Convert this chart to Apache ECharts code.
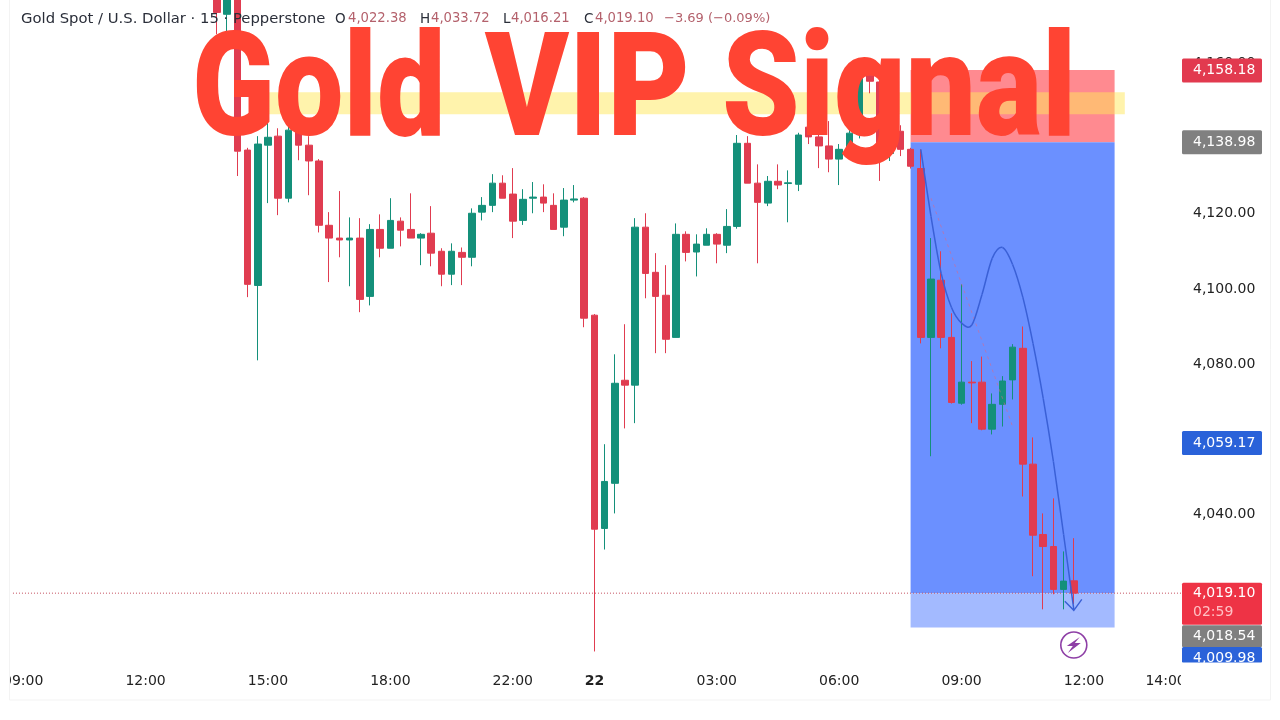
<!DOCTYPE html>
<html>
<head>
<meta charset="utf-8">
<style>html,body{margin:0;padding:0;background:#fff}#c{width:1280px;height:720px}</style>
<script src="https://cdn.jsdelivr.net/npm/echarts@6/dist/echarts.min.js"></script>
</head>
<body>
<div id="c"></div>
<script>
const slotCount = 116;
const firstCandleSlot = 20;
const tickSlots = [1, 13, 25, 37, 49, 57, 69, 81, 93, 105, 113];
const tickTexts = ['09:00', '12:00', '15:00', '18:00', '22:00', '22', '03:00', '06:00', '09:00', '12:00', '14:00'];

const opens = [4178,4173,4180,4136.9,4100.9,4138.2,4140.6,4124.1,4143,4138.2,
4134,4116.9,4113.5,4113,4113.5,4098,4115.8,4110.8,4118,4115.8,
4113.5,4114.8,4110,4103.9,4109.7,4108.4,4120.4,4122.2,4128.1,4125.2,
4118.2,4124.1,4124.4,4122.2,4116.4,4123.6,4124.1,4093,4036.3,4048.3,
4075.7,4074.4,4116.4,4104.4,4098.3,4087.1,4114.5,4109.8,4111.6,4114.5,
4111.6,4116.6,4138.7,4128.1,4122.8,4128.6,4128,4127.8,4143,4140.4,
4138,4134.5,4137.1,4141,4156.8,4155,4136,4141.9,4137.1,4132,
4087.1,4102.3,4087.1,4069.6,4075.2,4075.2,4062.7,4069.3,4075.8,4084.2,
4053.4,4034.7,4031.5,4020.1,4022.38];
const closes = [4173.5,4180,4136.6,4101.2,4138.5,4140.3,4124.1,4142.2,4138.2,4134,
4116.9,4113.5,4113,4113.5,4097.2,4115.8,4110.8,4118.2,4115.6,4113.5,
4114.5,4109.5,4103.9,4110,4108.4,4120.1,4122.2,4128.1,4124.1,4118,
4123.8,4124.4,4122.8,4115.8,4123.6,4123.9,4092.2,4036.1,4048.8,4074.9,
4074.4,4116.4,4104.1,4098,4086.6,4114.5,4109.7,4111.9,4114.5,4111.9,
4116.6,4138.7,4128.1,4123,4128.6,4127.6,4128.2,4140.9,4140.4,4138,
4134.5,4137.1,4141.4,4156,4155.2,4136,4141.9,4137.1,4132.6,4087.1,
4102.6,4087.1,4069.8,4075.2,4075,4062.7,4069.3,4075.5,4084.5,4053.4,
4034.5,4031.5,4020.1,4022.3,4019.1];
const lows = [4167.7,4167,4130,4097.8,4081,4122.8,4119.6,4123,4134.2,4124.9,
4115,4101.8,4108.4,4100.7,4093.8,4095.6,4108.4,4110.8,4111.3,4113.5,
4106.3,4106,4100.7,4101,4101,4106,4118.2,4120.4,4124.1,4113.5,
4117,4120.1,4120.4,4115.8,4114,4123,4089.8,4003.6,4030.7,4040.3,
4062.9,4064.3,4097.5,4082.9,4082.9,4087.1,4107.3,4103.3,4111.6,4106.8,
4109.5,4116,4128.1,4106.8,4122,4126.5,4117.7,4126,4138.5,4132.1,
4131,4127.6,4136,4140,4152,4128.7,4134,4135.3,4132,4085.5,
4055.5,4084.2,4069.5,4069.2,4064.3,4062.4,4061.3,4063.4,4070.6,4044.8,
4023.6,4014.8,4018.8,4014.8,4016.21];
const highs = [4180,4181,4182,4137.5,4140.6,4149.9,4142.7,4145,4144.6,4140.6,
4134.5,4120.4,4126,4119,4118.8,4117.2,4119.8,4124.1,4119,4125.4,
4114.8,4122,4110.8,4112.1,4111,4121.4,4124.4,4130.5,4130.2,4132.1,
4126.5,4128.4,4127.8,4125.4,4126.8,4127.6,4124.4,4093.3,4058.7,4082.6,
4090.6,4118.8,4120.1,4109.5,4106.3,4117.4,4115.3,4114.5,4116.1,4114.8,
4121.2,4140.9,4140.6,4133.1,4130,4133.1,4131.5,4141.5,4147,4141,
4144.6,4138.5,4145,4158,4160,4156,4143,4143.5,4137.5,4137.1,
4113.5,4110,4093.5,4101.2,4080.8,4082,4072.2,4076.8,4085.3,4090,
4060.5,4040.3,4044.3,4030.2,4033.72];

const forecastSlots = [89,90,91,92,93,94,95,96,97,98,99,100,101,102,103,104];
const forecastPrices = [4137.1,4119.3,4104.1,4095.1,4090.9,4090.4,4098.5,4108.1,4111,4106.5,4097.8,4085.5,4070.9,4054.1,4034.7,4014.8];
const dashedSlots = [90, 98];
const dashedPrices = [4124.1, 4063.4];

const lastPrice = 4019.10;
const zoneStart = 88, zoneEnd = 108;
const zones = [
  [zoneStart, zoneEnd, 4158.18, 4138.98],
  [zoneStart, zoneEnd, 4138.98, 4019.10],
  [zoneStart, zoneEnd, 4019.10, 4009.98],
  [25, 109, 4152.3, 4146.4]
];
const zoneFills = ['#ff8a90', '#6b90ff', '#a3baff', 'rgba(255,232,90,0.5)'];

const tagPrices = [4158.18, 4138.98, 4059.17, 4019.10, 4018.54, 4009.98];
const tagTexts = ['4,158.18', '4,138.98', '4,059.17', '4,019.10', '4,018.54', '4,009.98'];
const tagFills = ['#e23a4f', '#808080', '#2a62d9', '#ee3345', '#808080', '#2a62d9'];
const tagHeights = [24, 24, 24, 42, 22, 16];
const tagShift = [0.5, 0, 0.5, 10.5, 41, 27.5];
const tagTextShift = [0, 0, 0, -10, 0, 3];

const boltSlot = 104, boltPrice = 4005.3;
const fontUI = '"DejaVu Sans"';
const RED = '#e03c50', GREEN = '#14907a';

const categories = Array.from({length: slotCount}, (_, i) => String(i));
const emptySlots = Array.from({length: firstCandleSlot}, () => ['-', '-', '-', '-']);
const candleData = emptySlots.concat(opens.map((o, i) => [o, closes[i], lows[i], highs[i]]));

const chart = echarts.init(document.getElementById('c'), null, {renderer: 'canvas'});

function headerText(x, text, color, size) {
  return {type: 'text', z: 60, x: x, y: 19, silent: true,
    style: {text: text, fill: color, font: size + 'px ' + fontUI, verticalAlign: 'middle', align: 'left'}};
}
function titleWord(x, text, sx) {
  return {type: 'text', z: 80, silent: true, x: x, y: 99, scaleX: sx, originX: 0, originY: 0,
    style: {text: text, fill: '#ff4433', font: '900 144px Roboto', verticalAlign: 'middle', align: 'left'}};
}
function cover(x, y, w, h) {
  return {type: 'rect', z: 40, silent: true, shape: {x: x, y: y, width: w, height: h}, style: {fill: '#fff'}};
}

chart.setOption({
  animation: false,
  backgroundColor: '#fff',
  grid: {left: 12, right: 94, top: 3, height: 662, containLabel: false},
  xAxis: {
    type: 'category', data: categories, boundaryGap: false,
    axisLine: {show: false}, axisTick: {show: false}, splitLine: {show: false},
    axisLabel: {
      margin: 9, color: '#222', fontFamily: fontUI, fontSize: 14, hideOverlap: false,
      interval: (i) => tickSlots.indexOf(i) >= 0,
      formatter: (v, i) => {
        const k = tickSlots.indexOf(i);
        if (k < 0) return '';
        const t = tickTexts[k];
        return t === '22' ? '{b|22}' : t;
      },
      rich: {b: {fontWeight: 'bold', fontFamily: fontUI, fontSize: 14, color: '#222'}}
    }
  },
  yAxis: {
    type: 'value', position: 'right', min: 4000, max: 4176, interval: 20, scale: true,
    axisLine: {show: false}, axisTick: {show: false}, splitLine: {show: false},
    axisLabel: {
      margin: 7, color: '#222', fontFamily: fontUI, fontSize: 14, showMinLabel: false, showMaxLabel: false,
      formatter: (v) => v.toLocaleString('en-US', {minimumFractionDigits: 2, maximumFractionDigits: 2})
    }
  },
  series: [
    {
      type: 'custom', z: 1, clip: true, silent: true,
      encode: {x: [0, 1], y: [2, 3]},
      data: zones,
      renderItem: (p, api) => {
        const a = api.coord([api.value(0), api.value(2)]);
        const b = api.coord([api.value(1), api.value(3)]);
        return {type: 'rect', shape: {x: a[0], y: a[1], width: b[0] - a[0], height: b[1] - a[1]},
          style: {fill: zoneFills[p.dataIndex]}};
      }
    },
    {
      type: 'line', z: 2, silent: true, showSymbol: false, symbol: 'none',
      data: [[0, lastPrice], [slotCount - 1, lastPrice]],
      lineStyle: {color: '#c4505e', width: 1, type: [1, 2]}
    },
    {
      type: 'candlestick', z: 3, silent: true, barWidth: 7,
      data: candleData,
      itemStyle: {color: GREEN, color0: RED, borderColor: GREEN, borderColor0: RED, borderWidth: 1, borderColorDoji: RED}
    },
    {
      type: 'line', z: 4, silent: true, showSymbol: false, symbol: 'none',
      data: dashedSlots.map((s, i) => [s, dashedPrices[i]]),
      lineStyle: {color: 'rgba(225,100,130,0.55)', width: 1, type: [3, 4]}
    },
    {
      type: 'custom', z: 5, silent: true,
      encode: {x: 0, y: 1},
      data: forecastSlots.map((s, i) => [s, forecastPrices[i]]),
      renderItem: (p, api) => {
        const n = forecastSlots.length, i = p.dataIndex;
        if (i >= n - 1) return null;
        const pt = (k) => {
          const j = Math.max(0, Math.min(n - 1, k));
          return api.coord([forecastSlots[j], forecastPrices[j]]);
        };
        const p0 = pt(i - 1), p1 = pt(i), p2 = pt(i + 1), p3 = pt(i + 2);
        return {type: 'bezierCurve', shape: {
            x1: p1[0], y1: p1[1], x2: p2[0], y2: p2[1],
            cpx1: p1[0] + (p2[0] - p0[0]) / 6, cpy1: p1[1] + (p2[1] - p0[1]) / 6,
            cpx2: p2[0] - (p3[0] - p1[0]) / 6, cpy2: p2[1] - (p3[1] - p1[1]) / 6},
          style: {stroke: '#3a60d6', fill: 'none', lineWidth: 1.5}};
      }
    },
    {
      type: 'custom', z: 6, silent: true,
      encode: {x: 0, y: 1},
      data: [[forecastSlots[forecastSlots.length - 1], forecastPrices[forecastPrices.length - 1]]],
      renderItem: (p, api) => {
        const c = api.coord([api.value(0), api.value(1)]);
        return {type: 'polyline', shape: {points: [[c[0] - 9, c[1] - 8], [c[0], c[1] + 1], [c[0] + 8, c[1] - 10]]},
          style: {stroke: '#3a60d6', fill: 'none', lineWidth: 1.4}};
      }
    },
    {
      type: 'custom', z: 7, silent: true,
      encode: {x: 0, y: 1},
      data: [[boltSlot, boltPrice]],
      renderItem: (p, api) => {
        const c = api.coord([api.value(0), api.value(1)]);
        const x = c[0], y = c[1];
        return {type: 'group', children: [
          {type: 'circle', shape: {cx: x, cy: y, r: 13}, style: {fill: '#fff', stroke: '#8e3fa6', lineWidth: 1.6}},
          {type: 'polygon', shape: {points: [[x + 6, y - 8], [x - 7, y + 1], [x - 1, y + 1], [x - 6, y + 8], [x + 7, y - 2], [x + 1, y - 2]]},
           style: {fill: '#8e3fa6'}}
        ]};
      }
    },
    {
      type: 'custom', z: 20, silent: true,
      encode: {x: 0, y: 1},
      data: tagPrices.map((v) => [slotCount - 1, v]),
      renderItem: (p, api) => {
        const i = p.dataIndex;
        const c = api.coord([api.value(0), api.value(1)]);
        const cy = c[1] + tagShift[i], h = tagHeights[i];
        const kids = [
          {type: 'rect', shape: {x: c[0] - 4, y: cy - h / 2, width: 80, height: h, r: 1.5}, style: {fill: tagFills[i]}},
          {type: 'text', x: c[0] + 7, y: cy + tagTextShift[i],
            style: {text: tagTexts[i], fill: '#fff', font: '14px ' + fontUI, verticalAlign: 'middle', align: 'left'}}
        ];
        if (tagTexts[i] === '4,019.10') {
          kids.push({type: 'text', x: c[0] + 7, y: cy + 9,
            style: {text: '02:59', fill: '#ffc0c4', font: '14px ' + fontUI, verticalAlign: 'middle', align: 'left'}});
        }
        return {type: 'group', children: kids};
      }
    }
  ],
  graphic: [
    cover(0, 664, 9.5, 40),
    cover(1181, 662.5, 96, 36),
    {type: 'rect', z: 41, silent: true, shape: {x: 9.5, y: -3, width: 1261, height: 703}, style: {fill: 'none', stroke: '#f3f3f3', lineWidth: 1}},
    headerText(21, 'Gold Spot / U.S. Dollar · 15 · Pepperstone', '#2a2e39', 14.8),
    headerText(335, 'O', '#2a2e39', 13.5),
    headerText(348, '4,022.38', '#b4616c', 13.2),
    headerText(420, 'H', '#2a2e39', 13.5),
    headerText(431, '4,033.72', '#b4616c', 13.2),
    headerText(503, 'L', '#2a2e39', 13.5),
    headerText(511, '4,016.21', '#b4616c', 13.2),
    headerText(584, 'C', '#2a2e39', 13.5),
    headerText(595, '4,019.10', '#b4616c', 13.2),
    headerText(664, '−3.69 (−0.09%)', '#b4616c', 13),
    titleWord(192, 'Gold', 0.846),
    titleWord(485, 'VIP', 0.882),
    titleWord(722, 'Signal', 0.864)
  ]
});
</script>
</body>
</html>
